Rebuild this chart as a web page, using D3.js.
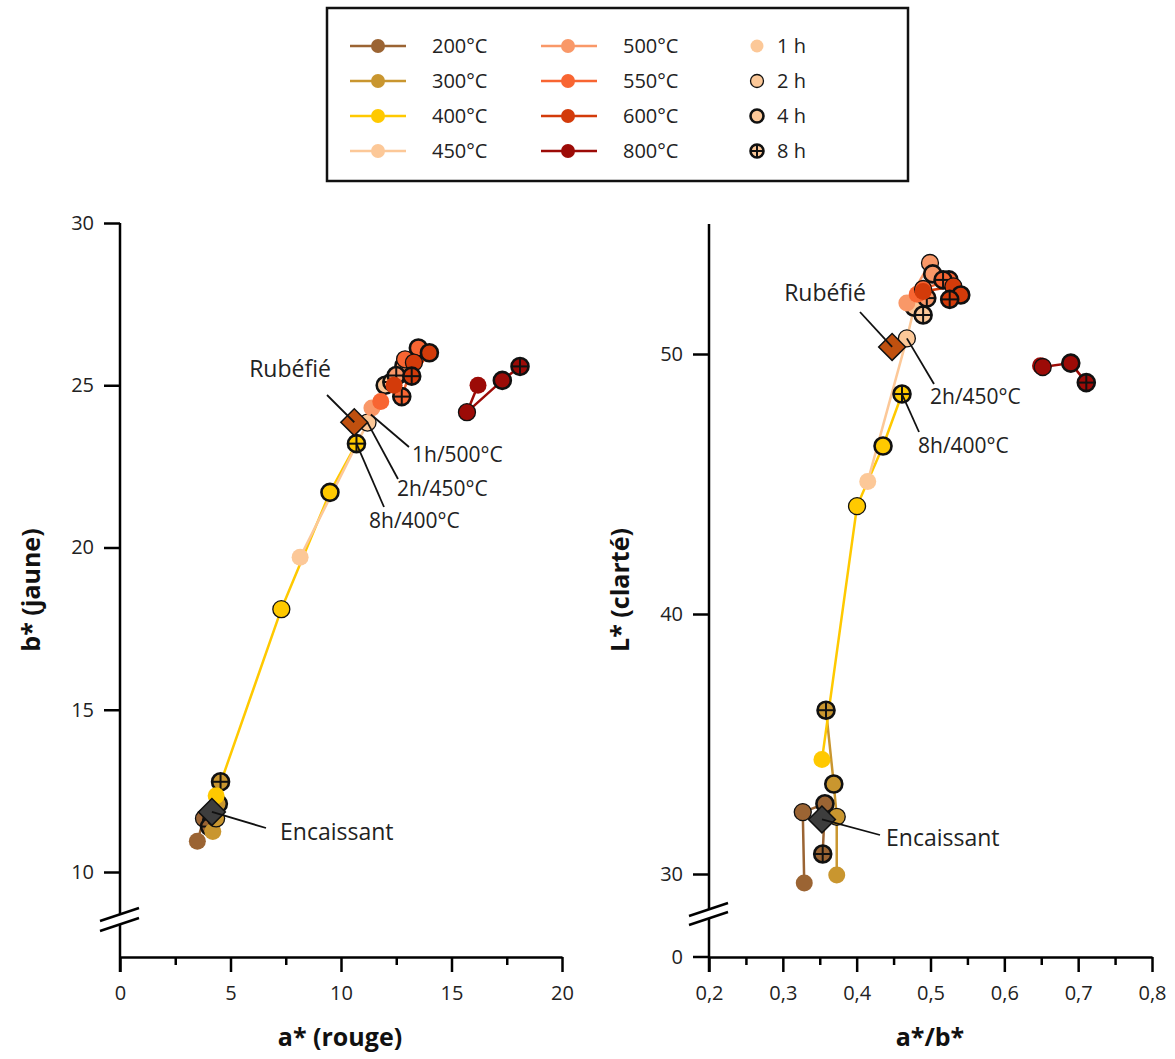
<!DOCTYPE html>
<html><head><meta charset="utf-8">
<script src="https://cdn.jsdelivr.net/npm/d3@7"></script>
<style>
html,body{margin:0;padding:0;background:#fff;}
text{font-family:"Open Sans","Noto Sans",sans-serif;}
</style></head>
<body><svg id="c" width="1175" height="1059"></svg>
<script>
// ---------- DATA ----------
const temperatures = ["200°C","300°C","400°C","450°C","500°C","550°C","600°C","800°C"];
const tempColors   = ["#9b6433","#c9962f","#ffc900","#fcc898","#f99868","#f86532","#d33b0a","#9c0b07"];
const durations    = ["1 h","2 h","4 h","8 h"];
// a* (rouge) per temperature, durations 1h,2h,4h,8h
const aStar = [
  [3.5, 3.8, 4.15, 4.05],
  [4.2, 4.35, 4.45, 4.55],
  [4.35, 7.3, 9.5, 10.7],
  [8.15, 11.2, 12.0, 12.3],
  [11.4, 12.6, 12.85, 12.5],
  [11.8, 12.9, 13.5, 12.75],
  [12.4, 13.3, 14.0, 13.2],
  [16.2, 15.7, 17.3, 18.1]
];
// b* (jaune)
const bStar = [
  [10.95, 11.65, 11.6, 11.4],
  [11.25, 11.65, 12.1, 12.78],
  [12.35, 18.1, 21.7, 23.2],
  [19.7, 23.85, 25.0, 25.1],
  [24.3, 25.3, 25.6, 25.3],
  [24.5, 25.8, 26.15, 24.65],
  [25.0, 25.7, 26.0, 25.28],
  [25.0, 24.17, 25.15, 25.58]
];
// a*/b*
const ratioAB = [
  [0.329, 0.327, 0.357, 0.354],
  [0.373, 0.373, 0.369, 0.3585],
  [0.353, 0.4005, 0.4357, 0.4614],
  [0.415, 0.468, 0.478, 0.490],
  [0.468, 0.4993, 0.503, 0.495],
  [0.482, 0.490, 0.525, 0.517],
  [0.490, 0.531, 0.541, 0.526],
  [0.649, 0.652, 0.690, 0.711]
];
// L* (clarté)
const lStar = [
  [29.65, 32.38, 32.7, 30.77],
  [29.96, 32.2, 33.46, 36.3],
  [34.4, 44.15, 46.46, 48.46],
  [45.1, 50.6, 51.8, 51.5],
  [51.96, 53.5, 53.08, 52.15],
  [52.3, 52.5, 52.85, 52.85],
  [52.4, 52.6, 52.27, 52.1],
  [49.55, 49.5, 49.65, 48.9]
];
const refNames  = ["Rubéfié","Encaissant"];
const refColors = ["#c0500f","#3d3d3d"];
const refA      = [10.6, 4.16];
const refB      = [23.86, 11.85];
const refRatio  = [0.448, 0.353];
const refL      = [50.27, 32.1];

const xTicksLeft  = [0,5,10,15,20];
const yTicksLeft  = [10,15,20,25,30];
const xTicksRight = [0.2,0.3,0.4,0.5,0.6,0.7,0.8];
const yTicksRight = [30,40,50];

// ---------- LAYOUT ----------
const svg = d3.select("#c");
const R = 8.5;
const xL = d3.scaleLinear().domain([0,20]).range([120,562]);
const yL = d3.scaleLinear().domain([10,30]).range([872,223]);
const xR = d3.scaleLinear().domain([0.2,0.8]).range([709,1152]);
const yR = d3.scaleLinear().domain([30,55]).range([874,224]);
const BASE = 957;
const TICKFONT = 20;

function drawAxes(x, y, xTicks, yTicks, xFmt, showZero, brk) {
  const g = svg.append("g");
  const x0 = x.range()[0];
  g.append("g").attr("transform",`translate(0,${BASE})`)
    .call(d3.axisBottom(x).tickValues(xTicks).tickSize(15).tickSizeOuter(0).tickPadding(14).tickFormat(xFmt));
  const step = xTicks[1]-xTicks[0];
  const minor = xTicks.slice(0,-1).map(v=>v+step/2);
  const xm = g.append("g").attr("transform",`translate(0,${BASE})`)
    .call(d3.axisBottom(x).tickValues(minor).tickSize(8).tickSizeOuter(0).tickFormat(""));
  xm.select(".domain").remove();
  const ya = g.append("g").attr("transform",`translate(${x0},0)`)
    .call(d3.axisLeft(y).tickValues(yTicks).tickSize(16).tickSizeOuter(0).tickPadding(10).tickFormat(d3.format("d")));
  ya.select(".domain").remove();
  g.append("line").attr("x1",x0).attr("x2",x0).attr("y1",y.range()[1]).attr("y2",BASE+15)
    .attr("stroke","#000").attr("stroke-width",2.5);
  if (showZero) {
    g.append("line").attr("x1",x0-16).attr("x2",x0).attr("y1",BASE).attr("y2",BASE)
      .attr("stroke","#000").attr("stroke-width",2.5);
    g.append("text").attr("x",x0-26).attr("y",BASE).attr("dy","0.35em").attr("text-anchor","end")
      .attr("font-size",TICKFONT).attr("fill","#222").text("0");
  }
  g.selectAll(".domain").attr("stroke-width",2.5);
  g.selectAll(".tick line").attr("stroke","#000").attr("stroke-width",2.5);
  g.selectAll(".tick text").attr("font-size",TICKFONT).attr("fill","#222").attr("font-family","Open Sans");
  const [cy, dy] = brk;
  g.append("polygon")
    .attr("points",`${x0-20},${cy+6} ${x0+19},${cy-7} ${x0+19},${cy-7+dy} ${x0-20},${cy+6+dy}`)
    .attr("fill","#fff");
  [0,dy].forEach(o=>{
    g.append("line").attr("x1",x0-20).attr("y1",cy+6+o).attr("x2",x0+19).attr("y2",cy-7+o)
      .attr("stroke","#000").attr("stroke-width",2.5);
  });
}

drawAxes(xL,yL,xTicksLeft,yTicksLeft,d3.format("d"),false,[915,10]);
drawAxes(xR,yR,xTicksRight,yTicksRight,d=>d3.format(".1f")(d).replace(".",","),true,[910,9]);

// axis titles
const TF = 25;
svg.append("text").attr("x",340).attr("y",1046).attr("text-anchor","middle")
  .attr("font-size",TF).attr("font-weight","bold").attr("fill","#111").text("a* (rouge)");
svg.append("text").attr("x",930).attr("y",1046).attr("text-anchor","middle")
  .attr("font-size",TF).attr("font-weight","bold").attr("fill","#111").text("a*/b*");
svg.append("text").attr("transform","translate(40,590) rotate(-90)").attr("text-anchor","middle")
  .attr("font-size",TF).attr("font-weight","bold").attr("fill","#111").text("b* (jaune)");
svg.append("text").attr("transform","translate(629,590) rotate(-90)").attr("text-anchor","middle")
  .attr("font-size",TF).attr("font-weight","bold").attr("fill","#111").text("L* (clarté)");

// ---------- MARKS ----------
function marker(g, cx, cy, color, dur, r) {
  const c = g.append("circle").attr("cx",cx).attr("cy",cy).attr("r",r).attr("fill",color);
  if (dur===1) c.attr("stroke","#111").attr("stroke-width",1.3);
  if (dur>=2) c.attr("stroke","#111").attr("stroke-width",2.6);
  if (dur===3) {
    g.append("line").attr("x1",cx-r).attr("x2",cx+r).attr("y1",cy).attr("y2",cy).attr("stroke","#111").attr("stroke-width",2);
    g.append("line").attr("x1",cx).attr("x2",cx).attr("y1",cy-r).attr("y2",cy+r).attr("stroke","#111").attr("stroke-width",2);
  }
}

function drawSeries(x, y, xs, ys) {
  const g = svg.append("g");
  const line = d3.line().x(d=>x(d[0])).y(d=>y(d[1]));
  temperatures.forEach((t,i)=>{
    const pts = xs[i].map((v,j)=>[v, ys[i][j]]);
    g.append("path").attr("d",line(pts)).attr("fill","none")
      .attr("stroke",tempColors[i]).attr("stroke-width",2.5);
  });
  temperatures.forEach((t,i)=>{
    xs[i].forEach((v,j)=> marker(g, x(v), y(ys[i][j]), tempColors[i], j, R));
  });
}
function drawRefs(x,y,rx,ry){
  refNames.forEach((n,i)=>{
    const cx=x(rx[i]), cy=y(ry[i]), s=9.5;
    svg.append("rect").attr("x",cx-s).attr("y",cy-s).attr("width",2*s).attr("height",2*s)
      .attr("transform",`rotate(45,${cx},${cy})`).attr("fill",refColors[i])
      .attr("stroke","#111").attr("stroke-width",1.5);
  });
}
function leader(x1,y1,x2,y2){
  svg.append("line").attr("x1",x1).attr("y1",y1).attr("x2",x2).attr("y2",y2)
    .attr("stroke","#111").attr("stroke-width",1.8);
}
function label(x,y,t,anchor,size){
  svg.append("text").attr("x",x).attr("y",y).attr("dy","0.35em").attr("text-anchor",anchor||"start")
    .attr("font-size",size||21).attr("fill","#222").text(t);
}

drawSeries(xL,yL,aStar,bStar);
drawRefs(xL,yL,refA,refB);
drawSeries(xR,yR,ratioAB,lStar);
drawRefs(xR,yR,refRatio,refL);

// annotations left
leader(327,395, xL(refA[0]),yL(refB[0]));
leader(xL(11.35),yL(24.1), 409,447);
leader(xL(aStar[3][1]),yL(bStar[3][1]), 398,479);
leader(xL(aStar[2][3]),yL(bStar[2][3]), 384,507);
leader(xL(refA[1]),yL(refB[1]), 266,828);
label(290,369,"Rubéfié","middle",23);
label(412,455,"1h/500°C");
label(397,489,"2h/450°C");
label(369,521,"8h/400°C");
label(280,832,"Encaissant","start",23);
// annotations right
leader(860,312, xR(refRatio[0]),yR(refL[0]));
leader(xR(ratioAB[3][1]),yR(lStar[3][1]), 934,384);
leader(xR(ratioAB[2][3]),yR(lStar[2][3]), 919,432);
leader(xR(refRatio[1]),yR(refL[1]), 880,835);
label(825,293,"Rubéfié","middle",23);
label(930,397,"2h/450°C");
label(918,446,"8h/400°C");
label(886,838,"Encaissant","start",23);

// ---------- LEGEND ----------
const lg = svg.append("g");
lg.append("rect").attr("x",327).attr("y",8).attr("width",581).attr("height",173)
  .attr("fill","#fff").attr("stroke","#111").attr("stroke-width",2.5);
const rowY = [46,81,116,151];
temperatures.forEach((t,i)=>{
  const col = Math.floor(i/4), row = i%4;
  const lx = col===0 ? 350 : 541, mx = col===0 ? 378 : 568, tx = col===0 ? 432 : 623;
  lg.append("line").attr("x1",lx).attr("x2",lx+56).attr("y1",rowY[row]).attr("y2",rowY[row])
    .attr("stroke",tempColors[i]).attr("stroke-width",2.5);
  lg.append("circle").attr("cx",mx).attr("cy",rowY[row]).attr("r",7).attr("fill",tempColors[i]);
  lg.append("text").attr("x",tx).attr("y",rowY[row]).attr("dy","0.35em").attr("font-size",20)
    .attr("fill","#222").text(t);
});
durations.forEach((d,j)=>{
  marker(lg, 757, rowY[j], "#fcc898", j, 6.5);
  lg.append("text").attr("x",777).attr("y",rowY[j]).attr("dy","0.35em").attr("font-size",20)
    .attr("fill","#222").text(d);
});
</script></body></html>
